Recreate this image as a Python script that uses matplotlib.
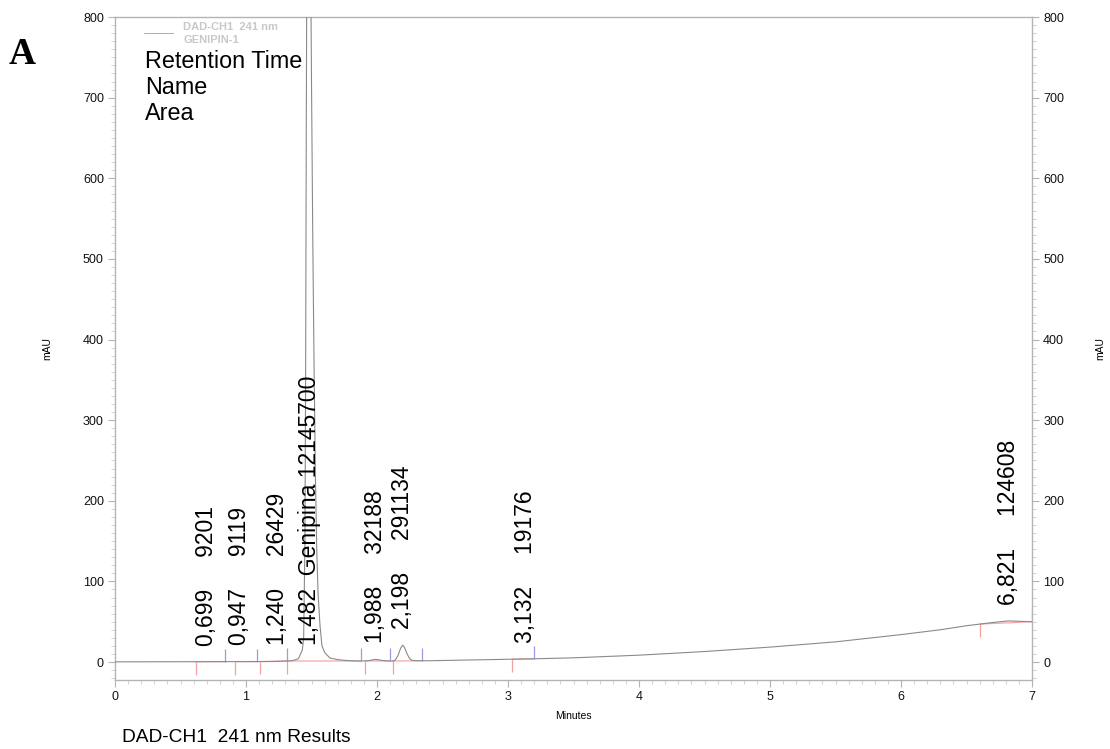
import numpy as np
import matplotlib
matplotlib.use("Agg")
import matplotlib.pyplot as plt
from matplotlib.ticker import MultipleLocator
from matplotlib.lines import Line2D

plt.rcParams['font.family'] = ['Liberation Sans', 'DejaVu Sans']

# ---------------- data ----------------
time_min = [0.0, 0.3, 0.6, 0.9, 1.2, 1.35, 1.40, 1.43, 1.44, 1.45, 1.455, 1.46, 1.465,
            1.472, 1.482, 1.49, 1.50, 1.51, 1.52, 1.53, 1.54, 1.55, 1.565, 1.58, 1.60,
            1.64, 1.70, 1.76, 1.85, 1.93, 1.96, 1.99, 2.02, 2.06, 2.12, 2.14, 2.16, 2.18,
            2.196, 2.21, 2.23, 2.25, 2.27, 2.30, 2.40, 2.6, 2.8, 3.0, 3.2, 3.5, 4.0, 4.5,
            5.0, 5.5, 6.0, 6.3, 6.5, 6.7, 6.82, 6.9, 7.0]
signal_mau = [0.2, 0.3, 0.4, 0.5, 0.6, 1.5, 4, 15, 30, 150, 350, 650, 900,
              1100, 1180, 960, 720, 520, 360, 230, 140, 85, 45, 20, 12,
              5, 3, 2, 1.2, 1.5, 2.5, 3.3, 2.5, 1.5, 1.2, 2.5, 8, 17,
              21, 18, 10, 4, 2, 1.6, 1.6, 2.2, 2.8, 3.4, 4.0, 5.2, 8.5, 13,
              18.5, 25, 34, 40, 45, 49, 51, 50.5, 50]

ret_times = [0.699, 0.947, 1.240, 1.482, 1.988, 2.198, 3.132, 6.821]
peak_names = ["", "", "", "Genipina", "", "", "", ""]
peak_areas = [9201, 9119, 26429, 12145700, 32188, 291134, 19176, 124608]
peak_starts = [0.616, 0.916, 1.107, 1.31, 1.91, 2.119, 3.033, 6.603]
peak_ends = [0.84, 1.086, 1.31, 1.876, 2.10, 2.34, 3.198, 7.0]

x_ticks = [0, 1, 2, 3, 4, 5, 6, 7]
y_ticks = [0, 100, 200, 300, 400, 500, 600, 700, 800]

# ---------------- figure ----------------
W, H = 1110, 749
fig = plt.figure(figsize=(W / 100, H / 100), dpi=100)
L, R, T, B = 115, 1032, 17, 680
ax = fig.add_axes([L / W, 1 - B / H, (R - L) / W, (B - T) / H])
ymax = 800
ax.set_xlim(0, 7)
ax.set_ylim(-22.3, ymax)

t = np.array(time_min)
s = np.array(signal_mau)
ax.plot(t, s, color='#8a8a8a', lw=0.8, zorder=3)

# integration marks
st = np.array(peak_starts)
en = np.array(peak_ends)
bs = np.interp(st, t, s)
be = np.interp(en, t, s)
mark = 16
for x0, y0, x1, y1 in zip(st, bs, en, be):
    ax.plot([x0, x1], [y0, y1], color='#f6a8a8', lw=0.9, zorder=2)
ax.vlines(st, bs - mark, bs, color='#f4a0a0', lw=0.9, zorder=2)
ax.vlines(en, be, be + mark, color='#9a9af0', lw=0.9, zorder=2.5)

# peak labels
rt = np.array(ret_times)
apex = np.interp(rt, t, s)
ref = np.where(apex > ymax, np.interp(st, t, s), apex)
for x, yref, nm, ar in zip(rt, ref, peak_names, peak_areas):
    rts = f"{x:.3f}".replace('.', ',')
    if nm:
        lab = f"{rts}  {nm} {ar}"
    else:
        lab = f"{rts}     {ar}"
    ax.text(x, yref + 20, lab, rotation=90, ha='center', va='bottom',
            fontsize=16.5, color='black', zorder=4)

# axes styling
spc = '#b4b4b4'
for sp in ax.spines.values():
    sp.set_color(spc)
    sp.set_linewidth(1.0)
ax.set_xticks(x_ticks)
ax.set_yticks(y_ticks)
ax.xaxis.set_minor_locator(MultipleLocator(0.1))
ax.yaxis.set_minor_locator(MultipleLocator(10))
ax.tick_params(which='major', length=5, width=0.8, color=spc, labelsize=9,
               labelcolor='#111111', pad=3)
ax.tick_params(which='minor', length=3, width=0.6, color='#cccccc')
ax.tick_params(axis='y', which='both', right=True, labelright=True)

ax.text(-0.074, 0.5, 'mAU', transform=ax.transAxes, rotation=90, fontsize=7.5,
        ha='center', va='center')
ax.text(1.074, 0.5, 'mAU', transform=ax.transAxes, rotation=90, fontsize=7.5,
        ha='center', va='center')
ax.set_xlabel('Minutes', fontsize=7.5, labelpad=6)

# legend-like header
fig.add_artist(Line2D([144 / W, 173 / W], [1 - 33 / H, 1 - 33 / H], color='#a0a0a0', lw=0.6))
fig.text(183 / W, 1 - 30.5 / H, 'DAD-CH1  241 nm', fontsize=8, weight='bold',
         color='#c8c8c8', va='baseline')
fig.text(183 / W, 1 - 43 / H, 'GENIPIN-1', fontsize=8, weight='bold',
         color='#c8c8c8', va='baseline')
for yy, txt in zip([68, 94, 120], ['Retention Time', 'Name', 'Area']):
    fig.text(145 / W, 1 - yy / H, txt, fontsize=16.8, va='baseline')

fig.text(9 / W, 1 - 64 / H, 'A', fontsize=27, weight='bold',
         family='Liberation Serif', va='baseline')
fig.text(122 / W, 1 - 742 / H, 'DAD-CH1  241 nm Results', fontsize=13.8, va='baseline')

fig.savefig('out.png', dpi=100)
